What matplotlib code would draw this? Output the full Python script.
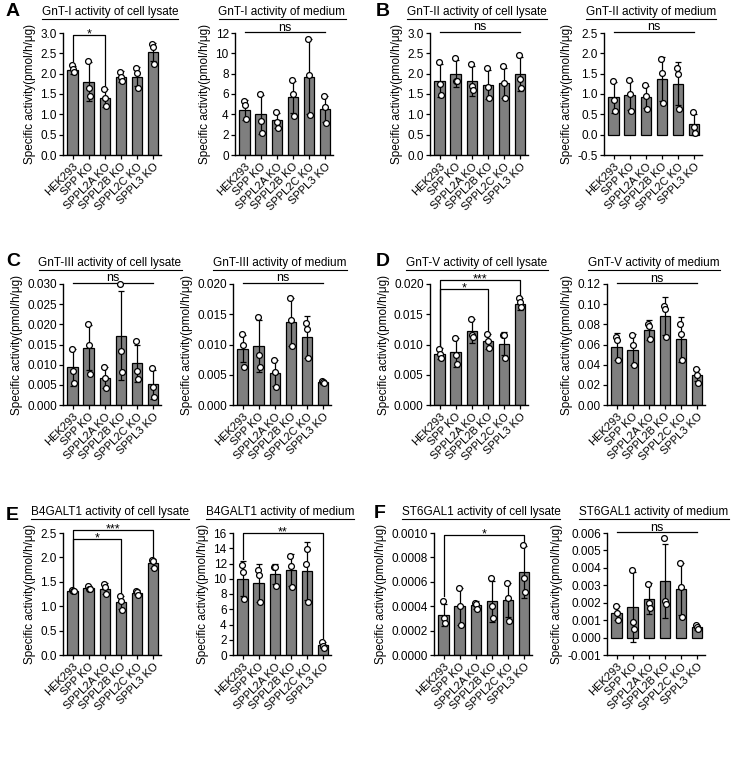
import numpy as np
import matplotlib
matplotlib.use("Agg")
import matplotlib.pyplot as plt
from matplotlib.lines import Line2D

plt.rcParams['font.family'] = ['Liberation Sans', 'DejaVu Sans']
plt.rcParams['font.size'] = 8.5
plt.rcParams['axes.linewidth'] = 1.0

groups = ["HEK293", "SPP KO", "SPPL2A KO", "SPPL2B KO", "SPPL2C KO", "SPPL3 KO"]

# A - GnT-I
gnt1_lys_mean = [2.10, 1.80, 1.41, 1.93, 1.93, 2.53]
gnt1_lys_sd = [0.10, 0.48, 0.22, 0.13, 0.24, 0.22]
gnt1_lys_pts = [[2.22, 2.12, 2.05], [2.30, 1.65, 1.45], [1.63, 1.40, 1.20],
                [2.05, 1.93, 1.82], [2.15, 2.02, 1.65], [2.72, 2.65, 2.25]]
gnt1_med_mean = [4.4, 4.0, 3.4, 5.7, 7.7, 4.5]
gnt1_med_sd = [1.0, 1.9, 0.7, 1.6, 3.7, 1.3]
gnt1_med_pts = [[5.3, 4.9, 3.5], [6.0, 3.3, 2.2], [4.2, 3.2, 2.7],
                [7.4, 6.0, 3.8], [11.4, 7.9, 3.9], [5.8, 4.7, 3.1]]

# B - GnT-II
gnt2_lys_mean = [1.83, 2.00, 1.83, 1.73, 1.78, 2.00]
gnt2_lys_sd = [0.40, 0.33, 0.37, 0.35, 0.37, 0.42]
gnt2_lys_pts = [[2.28, 1.75, 1.47], [2.38, 1.83, 1.83], [2.23, 1.70, 1.60],
                [2.13, 1.67, 1.40], [2.18, 1.78, 1.40], [2.47, 1.87, 1.65]]
gnt2_med_mean = [0.92, 0.97, 0.93, 1.38, 1.25, 0.25]
gnt2_med_sd = [0.38, 0.36, 0.27, 0.54, 0.53, 0.25]
gnt2_med_pts = [[1.33, 0.85, 0.58], [1.35, 1.00, 0.58], [1.22, 0.95, 0.62],
                [1.85, 1.52, 0.78], [1.65, 1.50, 0.62], [0.55, 0.18, 0.03]]

# C - GnT-III
gnt3_lys_mean = [0.0093, 0.0142, 0.0068, 0.0172, 0.0103, 0.0052]
gnt3_lys_sd = [0.0045, 0.0056, 0.0027, 0.0111, 0.0047, 0.0036]
gnt3_lys_pts = [[0.0138, 0.0085, 0.0055], [0.0200, 0.0148, 0.0078], [0.0095, 0.0068, 0.0042],
                [0.0300, 0.0133, 0.0083], [0.0158, 0.0085, 0.0065], [0.0092, 0.0045, 0.0020]]
gnt3_med_mean = [0.0093, 0.0097, 0.0053, 0.0137, 0.0112, 0.0038]
gnt3_med_sd = [0.0022, 0.0043, 0.0022, 0.0040, 0.0035, 0.0003]
gnt3_med_pts = [[0.0117, 0.0100, 0.0063], [0.0145, 0.0083, 0.0063], [0.0075, 0.0055, 0.0030],
                [0.0177, 0.0140, 0.0097], [0.0135, 0.0125, 0.0077], [0.0040, 0.0038, 0.0037]]

# D - GnT-V
gnt5_lys_mean = [0.0085, 0.0087, 0.0122, 0.0105, 0.0101, 0.0167]
gnt5_lys_sd = [0.0009, 0.0024, 0.0020, 0.0012, 0.0019, 0.0010]
gnt5_lys_pts = [[0.0093, 0.0085, 0.0078], [0.0111, 0.0083, 0.0068], [0.0142, 0.0115, 0.0113],
                [0.0117, 0.0105, 0.0095], [0.0115, 0.0115, 0.0078], [0.0177, 0.0170, 0.0162]]
gnt5_med_mean = [0.058, 0.055, 0.074, 0.088, 0.065, 0.030]
gnt5_med_sd = [0.013, 0.015, 0.010, 0.019, 0.022, 0.006]
gnt5_med_pts = [[0.067, 0.064, 0.045], [0.069, 0.060, 0.040], [0.080, 0.078, 0.065],
                [0.098, 0.095, 0.067], [0.080, 0.070, 0.045], [0.036, 0.030, 0.022]]

# E - B4GALT1
b4_lys_mean = [1.32, 1.38, 1.36, 1.08, 1.28, 1.88]
b4_lys_sd = [0.02, 0.03, 0.12, 0.13, 0.06, 0.09]
b4_lys_pts = [[1.33, 1.32, 1.31], [1.41, 1.36, 1.35], [1.45, 1.40, 1.25],
              [1.20, 1.10, 0.93], [1.32, 1.30, 1.23], [1.95, 1.93, 1.78]]
b4_med_mean = [10.0, 9.4, 10.6, 11.2, 11.0, 1.3]
b4_med_sd = [2.3, 2.5, 1.3, 2.1, 3.8, 0.35]
b4_med_pts = [[11.8, 10.9, 7.4], [11.2, 10.5, 6.9], [11.6, 11.5, 9.1],
              [13.0, 11.7, 8.9], [12.0, 13.9, 7.0], [1.7, 1.2, 0.9]]

# F - ST6GAL1
st6_lys_mean = [0.00033, 0.00040, 0.00041, 0.00044, 0.00045, 0.00068]
st6_lys_sd = [0.00009, 0.00015, 0.00003, 0.00017, 0.00014, 0.00021]
st6_lys_pts = [[0.00044, 0.00030, 0.00026], [0.00055, 0.00040, 0.00025], [0.00043, 0.00042, 0.00038],
               [0.00063, 0.00040, 0.00030], [0.00059, 0.00047, 0.00028], [0.00090, 0.00063, 0.00052]]
st6_med_mean = [0.00140, 0.00175, 0.00223, 0.00325, 0.00278, 0.00060]
st6_med_sd = [0.0004, 0.0020, 0.0009, 0.0021, 0.0015, 0.00015]
st6_med_pts = [[0.0018, 0.0014, 0.0010], [0.0039, 0.0009, 0.0005], [0.0031, 0.0020, 0.0017],
               [0.0057, 0.0021, 0.0019], [0.0043, 0.0029, 0.0012], [0.0007, 0.0006, 0.0005]]

W, H = 736, 759
fig = plt.figure(figsize=(W / 100, H / 100), dpi=100)
jit = [-0.22, 0.0, 0.22]


def add_panel(left_px, top_px, title, mean, sd, pts, ymin, ymax, step, fmt,
              ns=None, brackets=(), h_px=122):
    right_px = left_px + 98
    bottom_px = top_px + h_px
    ax = fig.add_axes([left_px / W, 1 - bottom_px / H, (right_px - left_px) / W, h_px / H])
    x = np.arange(len(groups))
    ax.bar(x, mean, width=0.65, color='#7f7f7f', edgecolor='black', linewidth=0.9, zorder=2)
    ax.errorbar(x, mean, yerr=sd, fmt='none', ecolor='black', elinewidth=0.9,
                capsize=2.2, capthick=0.9, zorder=3)
    for i, p in enumerate(pts):
        ax.plot(x[i] + np.array(jit[:len(p)]) * 0.3, p, 'o', ms=4.2, mfc='white',
                mec='black', mew=0.9, zorder=4, clip_on=False)
    ax.set_xlim(-0.6, 5.5)
    ax.set_ylim(ymin, ymax)
    ticks = np.arange(ymin, ymax + step / 2, step)
    ax.set_yticks(ticks)
    ax.set_yticklabels([fmt.format(t + 0.0) for t in ticks])
    ax.set_xticks(x)
    ax.set_xticklabels(groups, rotation=45, ha='right', rotation_mode='anchor', fontsize=8)
    ax.tick_params(length=3, width=0.9, pad=1.5)
    ax.tick_params(axis='y', labelsize=8.5)
    for s in ('top', 'right'):
        ax.spines[s].set_visible(False)
    ax.set_ylabel("Specific activity(pmol/h/μg)", fontsize=8.5, labelpad=3)
    rng = ymax - ymin
    if ns is not None:
        ax.plot([0, 5], [ns, ns], color='black', lw=0.9, clip_on=False)
        ax.text(2.5, ns + rng * 0.012, "ns", ha='center', va='baseline', fontsize=9)
    for (i, j, h, li, lj, lab) in brackets:
        ax.plot([i, i, j, j], [li, h, h, lj], color='black', lw=0.9, clip_on=False)
        ax.text((i + j) / 2, h - rng * 0.02, lab, ha='center', va='baseline', fontsize=9)
    cx = (left_px + right_px) / 2 - 2
    t = fig.text(cx / W, 1 - (top_px - 18) / H, title, ha='center', va='baseline', fontsize=8.5)
    return t


titles = []
titles.append(add_panel(63, 33, "GnT-I activity of cell lysate", gnt1_lys_mean, gnt1_lys_sd,
                        gnt1_lys_pts, 0, 3.0, 0.5, "{:.1f}",
                        brackets=[(0, 2, 2.95, 2.3, 1.72, "*")]))
titles.append(add_panel(235, 33, "GnT-I activity of medium", gnt1_med_mean, gnt1_med_sd,
                        gnt1_med_pts, 0, 12, 2, "{:.0f}", ns=12.1))
titles.append(add_panel(430, 33, "GnT-II activity of cell lysate", gnt2_lys_mean, gnt2_lys_sd,
                        gnt2_lys_pts, 0, 3.0, 0.5, "{:.1f}", ns=3.03))
titles.append(add_panel(604, 33, "GnT-II activity of medium", gnt2_med_mean, gnt2_med_sd,
                        gnt2_med_pts, -0.5, 2.5, 0.5, "{:.1f}", ns=2.53))

titles.append(add_panel(63, 284, "GnT-III activity of cell lysate", gnt3_lys_mean, gnt3_lys_sd,
                        gnt3_lys_pts, 0, 0.030, 0.005, "{:.3f}", ns=0.0303, h_px=121))
titles.append(add_panel(233, 284, "GnT-III activity of medium", gnt3_med_mean, gnt3_med_sd,
                        gnt3_med_pts, 0, 0.020, 0.005, "{:.3f}", ns=0.0202, h_px=121))
titles.append(add_panel(430, 284, "GnT-V activity of cell lysate", gnt5_lys_mean, gnt5_lys_sd,
                        gnt5_lys_pts, 0, 0.020, 0.005, "{:.3f}", h_px=121,
                        brackets=[(0, 3, 0.0192, 0.0097, 0.0121, "*"),
                                  (0, 5, 0.0206, 0.0097, 0.0180, "***")]))
titles.append(add_panel(607, 284, "GnT-V activity of medium", gnt5_med_mean, gnt5_med_sd,
                        gnt5_med_pts, 0, 0.12, 0.02, "{:.2f}", ns=0.121, h_px=121))

titles.append(add_panel(63, 533, "B4GALT1 activity of cell lysate", b4_lys_mean, b4_lys_sd,
                        b4_lys_pts, 0, 2.5, 0.5, "{:.1f}",
                        brackets=[(0, 3, 2.37, 1.40, 1.25, "*"),
                                  (0, 5, 2.57, 1.40, 2.00, "***")]))
titles.append(add_panel(233, 533, "B4GALT1 activity of medium", b4_med_mean, b4_med_sd,
                        b4_med_pts, 0, 16, 2, "{:.0f}",
                        brackets=[(0, 5, 16.0, 12.6, 2.2, "**")]))
titles.append(add_panel(434, 533, "ST6GAL1 activity of cell lysate", st6_lys_mean, st6_lys_sd,
                        st6_lys_pts, 0, 0.0010, 0.0002, "{:.4f}",
                        brackets=[(0, 5, 0.00098, 0.00048, 0.00092, "*")]))
titles.append(add_panel(607, 533, "ST6GAL1 activity of medium", st6_med_mean, st6_med_sd,
                        st6_med_pts, -0.001, 0.006, 0.001, "{:.3f}", ns=0.00605))

for letter, lx, ly in [("A", 6, 12), ("B", 376, 12), ("C", 6, 261),
                       ("D", 376, 261), ("E", 6, 516), ("F", 374, 514)]:
    fig.text(lx / W, 1 - ly / H, letter, fontsize=14, fontweight='bold', va='center', ha='left')

# underline the panel titles
fig.canvas.draw()
r = fig.canvas.get_renderer()
for t in titles:
    bb = t.get_window_extent(r)
    y = bb.y0 - 0.5
    fig.add_artist(Line2D([bb.x0 / W, bb.x1 / W], [y / H, y / H], color='black',
                          lw=0.8, transform=fig.transFigure))

fig.savefig("out.png", dpi=100)
